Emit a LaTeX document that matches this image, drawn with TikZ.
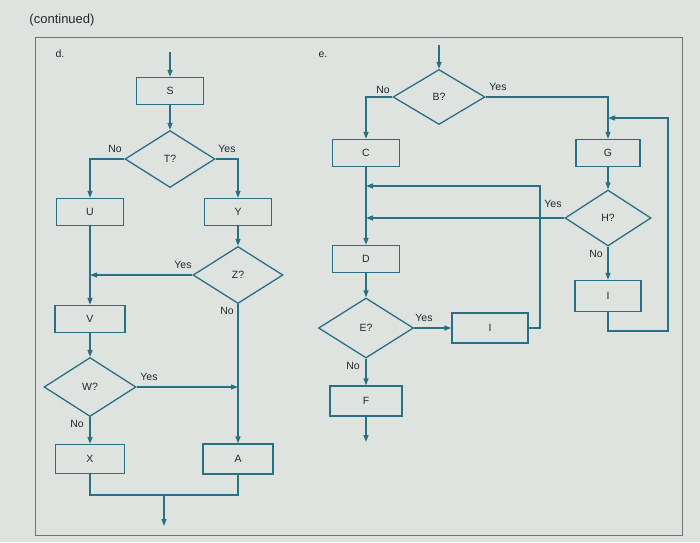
\documentclass[tikz,border=0pt]{standalone}
\usepackage{fontspec}
\setmainfont{Liberation Sans}
\usetikzlibrary{arrows.meta,shapes.geometric,calc}
\definecolor{colLINE}{RGB}{40,112,132}
\definecolor{colBG}{RGB}{222,227,224}
\definecolor{colTXT}{RGB}{35,40,45}
\definecolor{colFRAME}{RGB}{110,115,115}

\begin{document}
\begin{tikzpicture}[x=1pt, y=-1pt, every node/.style={font=\fontsize{10.5}{12}\selectfont, text=colTXT},
    box/.style={draw=colLINE, line width=1.3pt, rectangle, minimum width=67pt, minimum height=27pt, inner sep=0pt},
    decision/.style={draw=colLINE, line width=1.3pt, diamond, minimum width=90pt, minimum height=57pt, inner sep=0pt},
    flow/.style={colLINE, line width=1.3pt},
    arr/.style={flow, -{Triangle[length=7pt,width=5pt]}}]
      % page and frame
      \fill[colBG] (0,0) rectangle (700,542);
      \useasboundingbox (0,0) rectangle (700,542);
      \draw[colFRAME, line width=0.9pt] (35,37) rectangle (682,535);
      \node (cont) at (62,20) {\fontsize{13}{15}\selectfont (continued)};
      \node (dlab) at (60,54) {d.};
      \node (elab) at (323,55) {e.};
      % d.: boxes and decisions
      \node[box] (S) at (170,91) {S};
      \node[decision] (T) at (170,159) {T?};
      \node[box] (U) at (90,212) {U};
      \node[box] (Y) at (238,212) {Y};
      \node[decision] (Z) at (238,275) {Z?};
      \node[box, minimum width=70pt] (V) at (90,319) {V};
      \node[decision, minimum width=92pt, minimum height=59pt] (W) at (90,387) {W?};
      \node[box, minimum width=69pt, minimum height=29pt] (X) at (90,459) {X};
      \node[box, minimum width=70pt, minimum height=30pt] (A) at (238,459) {A};
      % d.: connectors
      \coordinate (din) at (170,52);
      \draw[arr] (din) -- (S);
      \draw[arr] (S) -- (T);
      \draw[arr] (T.west) -| (U);
      \draw[arr] (T.east) -| (Y);
      \draw[arr] (Y) -- (Z);
      \draw[arr] (U) -- (V);
      \draw[arr] (Z.west) -- (Z.west -| U.south);
      \draw[arr] (V) -- (W);
      \draw[arr] (W) -- (X);
      \draw[arr] (Z) -- (A);
      \draw[arr] (W.east) -- (W.east -| A.north);
      \coordinate (djoin) at (164,495);
      \coordinate (dout) at (164,526);
      \draw[flow] (X.south) |- (djoin) -| (A.south);
      \draw[arr] (djoin) -- (dout);
      % d.: branch labels
      \node (Tno) at (115,149) {No};
      \node (Tyes) at (227,149) {Yes};
      \node (Zyes) at (183,265) {Yes};
      \node (Zno) at (227,311) {No};
      \node (Wyes) at (149,377) {Yes};
      \node (Wno) at (77,424) {No};
      % e.: boxes and decisions
      \node[decision, minimum width=92pt, minimum height=55pt] (B) at (439,97) {B?};
      \node[box] (C) at (366,153) {C};
      \node[box, minimum width=64pt] (G) at (608,153) {G};
      \node[decision, minimum width=86pt, minimum height=56pt] (H) at (608,218) {H?};
      \node[box] (D) at (366,259) {D};
      \node[decision, minimum width=95pt, minimum height=60pt] (E) at (366,328) {E?};
      \node[box, minimum width=76pt, minimum height=30pt] (I1) at (490,328) {I};
      \node[box, minimum width=66pt, minimum height=31pt] (I2) at (608,296) {I};
      \node[box, minimum width=72pt, minimum height=30pt] (F) at (366,401) {F};
      % e.: connectors
      \coordinate (ein) at (439,45);
      \draw[arr] (ein) -- (B);
      \draw[arr] (B.west) -| (C);
      \draw[arr] (B.east) -| (G);
      \draw[arr] (G) -- (H);
      \draw[arr] (H) -- (I2);
      \draw[arr] (C) -- (D);
      \draw[arr] (H.west) -- (H.west -| C.south);
      \draw[arr] (D) -- (E);
      \draw[arr] (E) -- (I1);
      \draw[arr] (E) -- (F);
      \coordinate (eout) at (366,442);
      \draw[arr] (F) -- (eout);
      \coordinate (Iup) at (540,186);
      \draw[arr] (I1.east) -| (Iup) -- (Iup -| C.south);
      \coordinate (Iloop) at (668,331);
      \coordinate (Gret) at (668,118);
      \draw[arr] (I2.south) |- (Iloop) -- (Gret) -- (Gret -| G.north);
      % e.: branch labels
      \node (Bno) at (383,90) {No};
      \node (Byes) at (498,87) {Yes};
      \node (Hyes) at (553,204) {Yes};
      \node (Hno) at (596,254) {No};
      \node (Eyes) at (424,318) {Yes};
      \node (Eno) at (353,366) {No};
    \end{tikzpicture}
\end{document}
